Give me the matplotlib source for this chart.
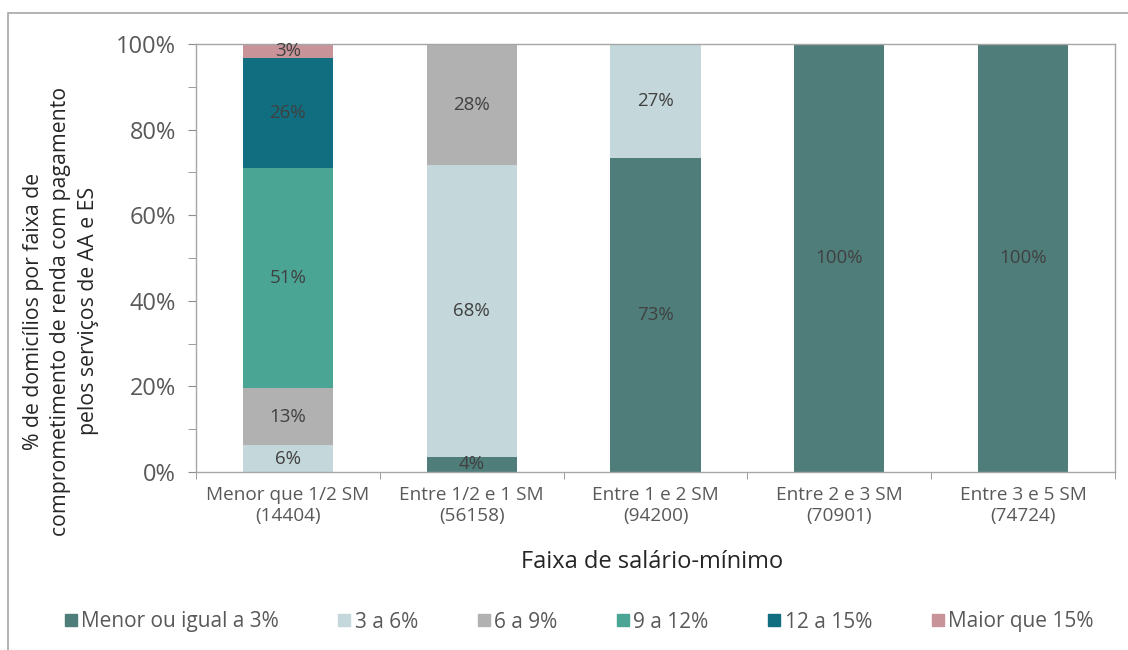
import matplotlib.pyplot as plt
import numpy as np
from matplotlib.patches import Rectangle
from matplotlib.lines import Line2D

# ── data ────────────────────────────────────────────────────────────
categories = ['Menor que 1/2 SM\n(14404)', 'Entre 1/2 e 1 SM\n(56158)',
              'Entre 1 e 2 SM\n(94200)', 'Entre 2 e 3 SM\n(70901)',
              'Entre 3 e 5 SM\n(74724)']
series_names = ['Menor ou igual a 3%', '3 a 6%', '6 a 9%', '9 a 12%',
                '12 a 15%', 'Maior que 15%']
ate_3 = [0.0, 3.6, 73.4, 100.0, 100.0]
de_3_a_6 = [6.2, 68.1, 26.6, 0.0, 0.0]
de_6_a_9 = [13.4, 28.3, 0.0, 0.0, 0.0]
de_9_a_12 = [51.4, 0.0, 0.0, 0.0, 0.0]
de_12_a_15 = [25.7, 0.0, 0.0, 0.0, 0.0]
maior_15 = [3.3, 0.0, 0.0, 0.0, 0.0]
series = [ate_3, de_3_a_6, de_6_a_9, de_9_a_12, de_12_a_15, maior_15]
colors = ['#4f7d7a', '#c4d7da', '#b1b1b1', '#4ba595', '#106e80', '#c9939a']

plt.rcParams['font.family'] = ['Open Sans', 'DejaVu Sans']

fig = plt.figure(figsize=(11.28, 6.5), dpi=100)
ax = fig.add_axes([196 / 1128, 1 - 472 / 650, (1115 - 196) / 1128, (472 - 44) / 650])

x = np.arange(len(categories))
bottom = np.zeros(len(categories))
handles = []
for name, vals, col in zip(series_names, series, colors):
    vals = np.array(vals)
    ax.bar(x, vals, 0.49, bottom=bottom, color=col, edgecolor='none')
    for xi, v, b in zip(x, vals, bottom):
        if v > 0:
            ax.text(xi, b + v / 2, f'{v:.0f}%', ha='center', va='center',
                    fontsize=13.5, color='#404040')
    bottom += vals
    handles.append(Line2D([], [], marker='s', linestyle='none',
                          markerfacecolor=col, markeredgecolor=col, markersize=9))

ax.set_xlim(-0.5, len(categories) - 0.5)
ax.set_ylim(0, 100)
ax.set_yticks(np.arange(0, 101, 20))
ax.set_yticklabels([f'{v}%' for v in range(0, 101, 20)])
ax.set_yticks(np.arange(10, 100, 20), minor=True)
ax.set_xticks(x)
ax.set_xticklabels(categories)
ax.set_xticks(np.arange(-0.5, len(categories)), minor=True)
ax.tick_params(axis='x', which='major', length=0, pad=10, labelsize=13.7,
               labelcolor='#595959')
ax.tick_params(axis='x', which='minor', length=5, color='#8c8c8c')
ax.tick_params(axis='y', which='both', length=6, color='#8c8c8c', labelsize=17,
               labelcolor='#595959', pad=8.5)
for s in ax.spines.values():
    s.set_color('#a6a6a6')
    s.set_linewidth(1.0)

ax.set_xlabel('Faixa de salário-mínimo', fontsize=17, color='#262626')
ax.xaxis.label.set_va('center')
ax.xaxis.set_label_coords(0.496, -(562 - 472) / 428)
ax.set_ylabel('% de domicílios por faixa de\ncomprometimento de renda com pagamento\n'
              'pelos serviços de AA e ES', fontsize=15.3, color='#262626',
              linespacing=1.4)
ax.yaxis.label.set_va('center')
ax.yaxis.set_label_coords((61 - 196) / 919, (472 - 311) / 428)

fig.legend(handles, series_names, loc='center', bbox_to_anchor=(578 / 1128, 1 - 622 / 650),
           ncol=6, frameon=False, fontsize=15, handletextpad=0.1, handlelength=0.8,
           columnspacing=2.75, labelcolor='#595959')

# outer chart frame
fig.patches.append(Rectangle((8 / 1128, -0.1), 1.2, 1 - 13 / 650 + 0.1,
                             transform=fig.transFigure, fill=False,
                             edgecolor='#a6a6a6', linewidth=1.2))

fig.savefig('out.png', dpi=100)
